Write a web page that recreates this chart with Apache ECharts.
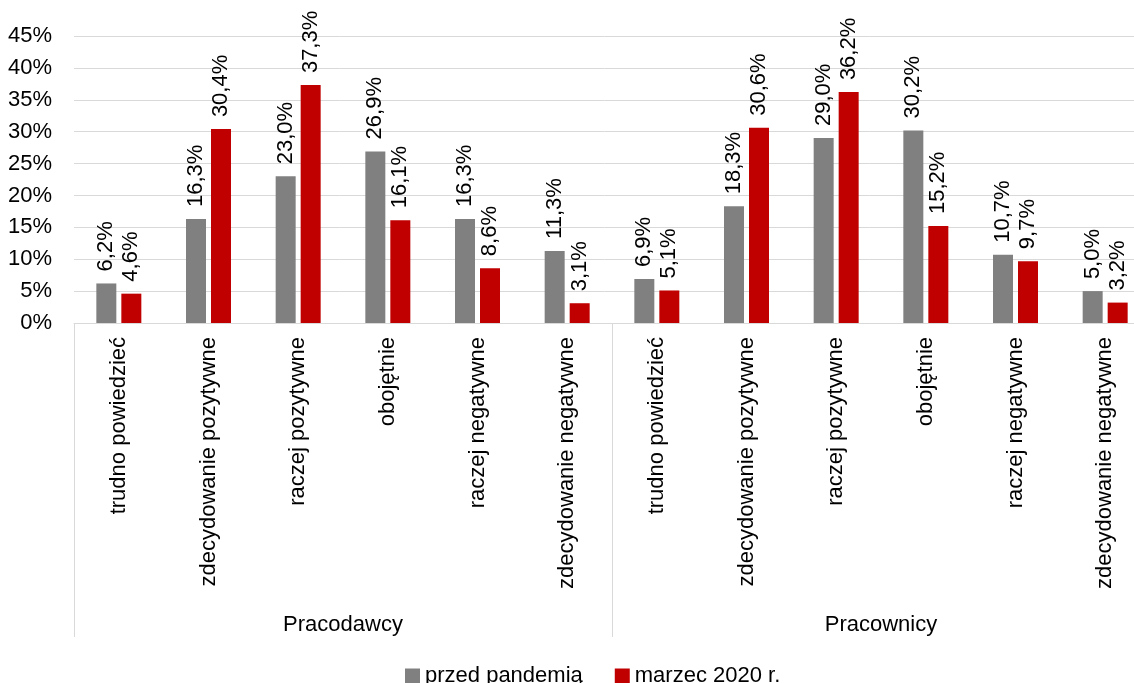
<!DOCTYPE html>
<html>
<head>
<meta charset="utf-8">
<script src="https://cdn.jsdelivr.net/npm/echarts@6/dist/echarts.min.js"></script>
<style>html,body{margin:0;padding:0;background:#fff;}#c{width:1134px;height:683px;}</style>
</head>
<body>
<div id="c"></div>
<script>
const categories = ['trudno powiedzieć','zdecydowanie pozytywne','raczej pozytywne','obojętnie','raczej negatywne','zdecydowanie negatywne',
                    'trudno powiedzieć','zdecydowanie pozytywne','raczej pozytywne','obojętnie','raczej negatywne','zdecydowanie negatywne'];
const groups = ['Pracodawcy','Pracownicy'];
const seriesNames = ['przed pandemią','marzec 2020 r.'];
const beforePandemic = [6.2,16.3,23.0,26.9,16.3,11.3, 6.9,18.3,29.0,30.2,10.7,5.0];
const march2020 = [4.6,30.4,37.3,16.1,8.6,3.1, 5.1,30.6,36.2,15.2,9.7,3.2];
const yTicks = [0,5,10,15,20,25,30,35,40,45];

const FONT = 'Liberation Sans';
const FS = 22;
const TXT = '#000000';
const fmt = v => v.toFixed(1).replace('.', ',') + '%';

const chart = echarts.init(document.getElementById('c'), null, {renderer:'canvas'});
const labelCfg = {
  show: true, position: 'top', rotate: 90, align: 'left', verticalAlign: 'middle',
  distance: 12, fontFamily: FONT, fontSize: FS, color: TXT,
  formatter: p => fmt(p.value)
};
chart.setOption({
  animation: false,
  textStyle: {fontFamily: FONT},
  grid: {left: 74, width: 1076, top: 36, height: 287, containLabel: false, outerBoundsMode: 'none'},
  legend: {
    top: 660, left: 400, itemWidth: 15, itemHeight: 15, itemGap: 32,
    icon: 'rect',
    textStyle: {fontFamily: FONT, fontSize: FS, color: TXT},
    data: seriesNames
  },
  xAxis: [{
    type: 'category', data: categories,
    axisLine: {show: true, lineStyle: {color: '#d9d9d9', width: 1}},
    axisTick: {show: false},
    axisLabel: {rotate: 90, margin: 14, interval: 0, fontFamily: FONT, fontSize: FS, color: TXT}
  },{
    type: 'category', data: groups, position: 'bottom',
    axisLine: {show: false},
    axisTick: {show: true, length: 314, interval: 0, lineStyle: {color: '#d9d9d9', width: 1}},
    axisLabel: {margin: 291, interval: 0, fontFamily: FONT, fontSize: FS, color: TXT},
    splitLine: {show: false}
  }],
  yAxis: {
    type: 'value', min: 0, max: 45, interval: 5,
    axisLine: {show: false}, axisTick: {show: false},
    axisLabel: {formatter: v => v + '%', fontFamily: FONT, fontSize: FS, color: TXT, margin: 22},
    splitLine: {lineStyle: {color: '#d9d9d9', width: 1}}
  },
  series: [{
    name: seriesNames[0], type: 'bar', data: beforePandemic, barWidth: 20, barGap: '25%',
    itemStyle: {color: '#808080'}, label: labelCfg
  },{
    name: seriesNames[1], type: 'bar', data: march2020, barWidth: 20, barGap: '25%',
    itemStyle: {color: '#c00000'}, label: labelCfg
  }]
});
</script>
</body>
</html>
